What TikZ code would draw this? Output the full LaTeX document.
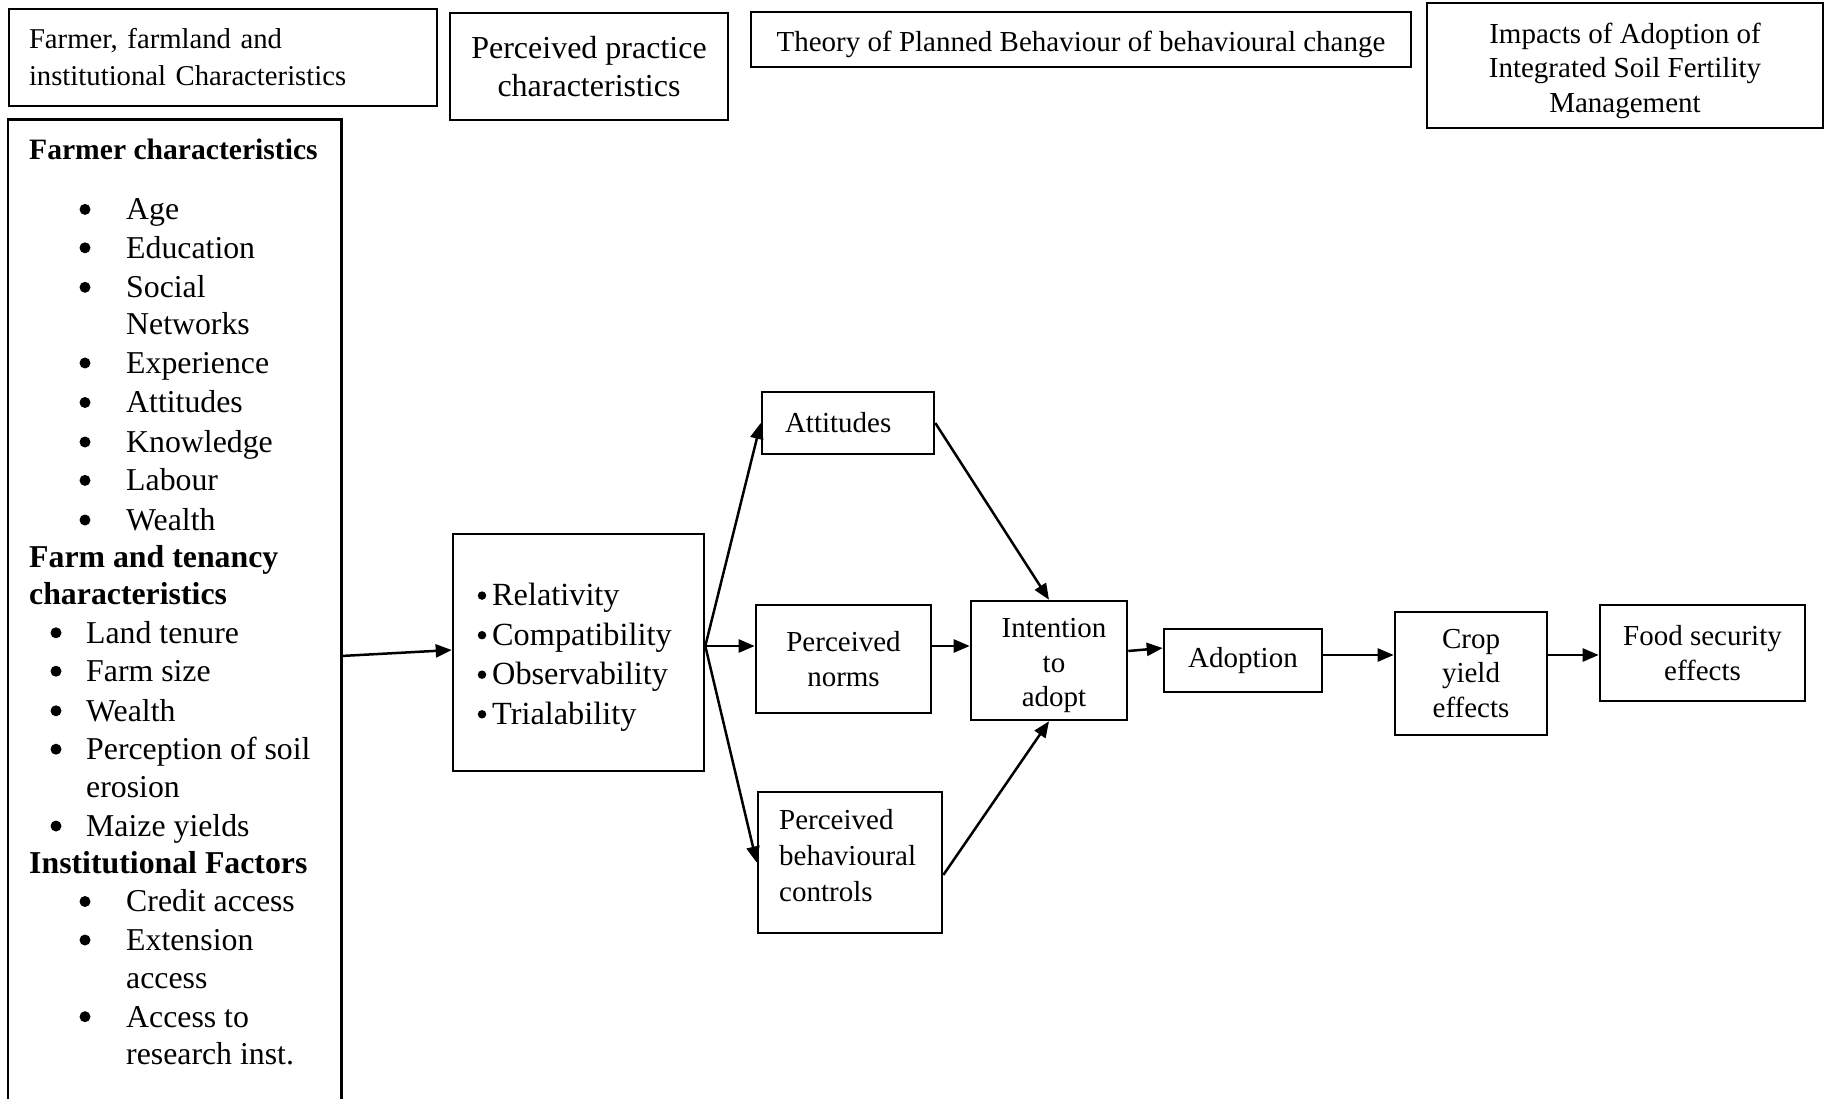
\documentclass[tikz,border=0pt]{standalone}
\usepackage{fontspec}
\setmainfont{Liberation Serif}
\usetikzlibrary{arrows.meta}
\begin{document}
\begin{tikzpicture}[x=1pt,y=-1pt,
  box/.style={draw, line width=2.6pt, inner sep=0pt, align=center},
  ftop/.style={font=\fontsize{28.7}{37}\selectfont},
  fppc/.style={font=\fontsize{32}{38}\selectfont},
  fmid/.style={font=\fontsize{29}{34.5}\selectfont},
  flft/.style={font=\fontsize{31.8}{38}\selectfont},
  frel/.style={font=\fontsize{32.3}{39}\selectfont},
  litem/.style={flft, anchor=mid west, inner sep=0pt, yshift=-8pt},
  lhead/.style={anchor=mid west, inner sep=0pt, yshift=-8pt, font=\fontsize{31.8}{38}\selectfont\bfseries},
  bul/.style={circle, fill, inner sep=0pt, minimum size=11pt},
  sbul/.style={circle, fill, inner sep=0pt, minimum size=8.5pt},
  arr/.style={line width=2.5pt, -{Triangle[length=16pt,width=13pt]}}
]
\useasboundingbox (0,0) rectangle (1824,1099);
\fill[white] (0,0) rectangle (1824,1099);

% header boxes
\node[box, ftop, minimum width=428pt, minimum height=97pt, text width=388pt, align=left] (h1) at (223,57.5)
  {Farmer, farmland and\\institutional Characteristics};
\node[box, fppc, minimum width=278pt, minimum height=107pt] (h2) at (589,66.5)
  {Perceived practice\\characteristics};
\node[box, minimum width=660pt, minimum height=55pt] (h3) at (1081,39.5) {};
\node[fmid, inner sep=0pt] (h3t) at (1081,44.5)
  {Theory of Planned Behaviour of behavioural change};
\node[box, minimum width=396pt, minimum height=125pt] (h4) at (1625,65.5) {};
\node[fmid, inner sep=0pt, align=center] (h4t) at (1625,70.5)
  {Impacts of Adoption of\\Integrated Soil Fertility\\Management};

% left box (open at the bottom)
\node[inner sep=0pt, minimum width=333pt, minimum height=979pt] (lbox) at (174.5,609.5) {};
\draw[line width=2.6pt] (lbox.south west) |- (lbox.north east) -- (lbox.south east);

\node[lhead, font=\fontsize{29.6}{38}\selectfont\bfseries] (t1) at (29,149) {Farmer characteristics};
\foreach \n/\t/\y in {t2/Age/209.4, t3/Education/247.8, t4/Social/287.3, t5/Networks/324.6,
  t6/Experience/363, t7/Attitudes/402.5, t8/Knowledge/442, t9/Labour/480.4, t10/Wealth/520}
  \node[litem] (\n) at (126,\y) {\t};
\foreach \n/\y in {b2/209.4, b3/247.8, b4/287.3, b6/363, b7/402.5, b8/442, b9/480.4, b10/520}
  \node[bul] (\n) at (85,\y) {};
\node[lhead] (t11) at (29,557.2) {Farm and tenancy};
\node[lhead] (t12) at (29,594.4) {characteristics};
\foreach \n/\t/\y in {t13/Land tenure/632.8, t14/Farm size/671.2, t15/Wealth/710.8,
  t16/Perception of soil/749.2, t17/erosion/787.6, t18/Maize yields/826}
  \node[litem] (\n) at (86,\y) {\t};
\foreach \n/\y in {b13/632.8, b14/671.2, b15/710.8, b16/749.2, b18/826}
  \node[bul] (\n) at (56,\y) {};
\node[lhead] (t19) at (29,863.2) {Institutional Factors};
\foreach \n/\t/\y in {t20/Credit access/901.5, t21/Extension/940, t22/access/978.3,
  t23/Access to/1016.7, t24/research inst./1054}
  \node[litem] (\n) at (126,\y) {\t};
\foreach \n/\y in {b20/901.5, b21/940, b23/1016.7}
  \node[bul] (\n) at (85,\y) {};

% perceived practice characteristics box
\node[box, minimum width=251pt, minimum height=237pt] (rel) at (578.5,652.5) {};
\foreach \n/\t/\y in {r1/Relativity/595.6, r2/Compatibility/635.2, r3/Observability/674.7, r4/Trialability/714.3}
  \node[frel, anchor=mid west, inner sep=0pt, yshift=-8pt] (\n) at (492,\y) {\t};
\foreach \n/\y in {rb1/595.6, rb2/635.2, rb3/674.7, rb4/714.3}
  \node[sbul] (\n) at (482,\y) {};

% TPB boxes
\node[box, fmid, minimum width=172pt, minimum height=62pt, text width=126pt, align=left] (att) at (848,423) {Attitudes};
\node[box, fmid, minimum width=175pt, minimum height=108pt] (nrm) at (843.5,659) {Perceived\\norms};
\node[box, minimum width=184pt, minimum height=141pt] (pbc) at (850,862.5) {};
\node[inner sep=0pt, anchor=west, align=left, font=\fontsize{29}{36}\selectfont] (pbct) at (779,856)
  {Perceived\\behavioural\\controls};
\node[box, minimum width=156pt, minimum height=119pt] (int) at (1049,660.5) {};
\node[fmid, inner sep=0pt, align=center] (intt) at (1054,665.5) {Intention\\to\\adopt};
\node[box, fmid, minimum width=158pt, minimum height=63pt] (ado) at (1243,660.5) {Adoption};
\node[box, fmid, minimum width=152pt, minimum height=123pt] (crop) at (1471,673.5) {Crop\\yield\\effects};
\node[box, fmid, minimum width=205pt, minimum height=96pt] (food) at (1702.5,653) {Food security\\effects};

% helper heights
\coordinate (y656) at (0,656);
\coordinate (y650) at (0,650);
\coordinate (y646) at (0,646);
\coordinate (y651) at (0,651);
\coordinate (y648) at (0,648);
\coordinate (y655) at (0,655);
\coordinate (y875) at (0,875);
\coordinate (fan) at (rel.east |- y646);

% connectors
\draw[arr] (lbox.east |- y656) -- (rel.west |- y650);
\draw[arr] (fan) -- (att.west);
\draw[arr] (fan) -- (nrm.west |- fan);
\draw[arr] (fan) -- (pbc.west);
\draw[arr] (att.east) -- (int.north);
\draw[arr] (nrm.east |- fan) -- (int.west |- fan);
\draw[arr] (pbc.east |- y875) -- (int.south);
\draw[arr] (int.east |- y651) -- (ado.west |- y648);
\draw[arr] (ado.east |- y655) -- (crop.west |- y655);
\draw[arr] (crop.east |- y655) -- (food.west |- y655);
\end{tikzpicture}
\end{document}
